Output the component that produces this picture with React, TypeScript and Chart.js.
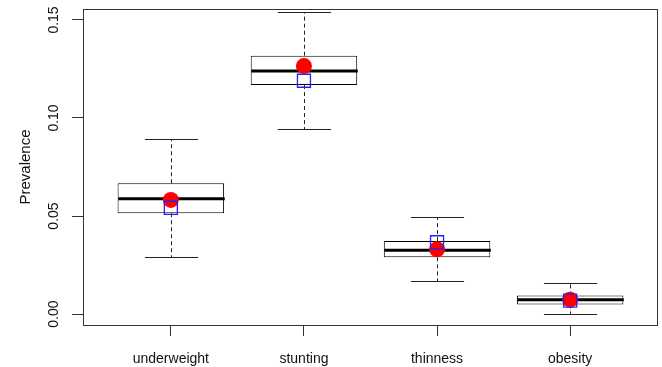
import { useEffect, useRef } from 'react';
import { Chart, registerables } from 'chart.js';

Chart.register(...registerables);

const categories = ['underweight', 'stunting', 'thinness', 'obesity'];
const whiskerLow = [0.0291, 0.0944, 0.017, 0.0];
const q1 = [0.0514, 0.1168, 0.0289, 0.0049];
const median = [0.0588, 0.124, 0.0325, 0.0073];
const q3 = [0.0667, 0.1318, 0.0372, 0.0095];
const whiskerHigh = [0.0893, 0.1542, 0.0497, 0.0158];
const redMeans = [0.0582, 0.1265, 0.033, 0.0073];
const blueValues = [0.0542, 0.119, 0.0366, 0.0068];
const yTicks = [0, 0.05, 0.1, 0.15];

const FONT = '"Liberation Sans", Arial, Helvetica, sans-serif';

const boxPlugin = {
  id: 'boxExtras',
  afterDatasetDraw(chart: any, args: any) {
    if (args.index !== 0) return;
    const { ctx, scales } = chart;
    const x = scales.x;
    const y = scales.y;
    const boxHalf = x.getPixelForValue(1.4) - x.getPixelForValue(1);
    const capHalf = x.getPixelForValue(1.2) - x.getPixelForValue(1);
    ctx.save();
    for (let i = 0; i < categories.length; i++) {
      const px = Math.round(x.getPixelForValue(i + 1)) + 0.5;
      const yq1 = y.getPixelForValue(q1[i]);
      const yq3 = y.getPixelForValue(q3[i]);
      const ylo = Math.round(y.getPixelForValue(whiskerLow[i])) + 0.5;
      const yhi = Math.round(y.getPixelForValue(whiskerHigh[i])) + 0.5;
      const ymed = y.getPixelForValue(median[i]);
      ctx.strokeStyle = '#222';
      ctx.lineWidth = 1;
      ctx.setLineDash([4, 3]);
      ctx.beginPath();
      ctx.moveTo(px, yq3);
      ctx.lineTo(px, yhi);
      ctx.moveTo(px, yq1);
      ctx.lineTo(px, ylo);
      ctx.stroke();
      ctx.setLineDash([]);
      ctx.beginPath();
      ctx.moveTo(px - capHalf, yhi);
      ctx.lineTo(px + capHalf, yhi);
      ctx.moveTo(px - capHalf, ylo);
      ctx.lineTo(px + capHalf, ylo);
      ctx.stroke();
      ctx.strokeStyle = '#000';
      ctx.lineWidth = 3;
      ctx.beginPath();
      ctx.moveTo(px - boxHalf, ymed);
      ctx.lineTo(px + boxHalf, ymed);
      ctx.stroke();
    }
    ctx.restore();
  },
  afterDraw(chart: any) {
    const { ctx, chartArea, scales } = chart;
    ctx.save();
    ctx.strokeStyle = '#333';
    ctx.lineWidth = 1;
    const l = Math.round(chartArea.left) + 0.5;
    const t = Math.round(chartArea.top) + 0.5;
    const r = Math.round(chartArea.right) - 0.5;
    const b = Math.round(chartArea.bottom) + 0.5;
    ctx.strokeRect(l, t, r - l, b - t);
    const y = scales.y;
    ctx.fillStyle = '#111';
    ctx.font = `14px ${FONT}`;
    ctx.textAlign = 'center';
    ctx.textBaseline = 'middle';
    for (const v of yTicks) {
      const py = y.getPixelForValue(v);
      ctx.save();
      ctx.translate(54, py);
      ctx.rotate(-Math.PI / 2);
      ctx.fillText(v.toFixed(2), 0, 0);
      ctx.restore();
    }
    ctx.restore();
  },
};

export default function App() {
  const ref = useRef<HTMLCanvasElement | null>(null);
  useEffect(() => {
    document.body.style.margin = '0';
    const canvas = ref.current;
    if (!canvas) return;
    const chart = new Chart(canvas, {
      type: 'bar',
      data: {
        datasets: [
          {
            type: 'bar',
            data: categories.map((_, i) => ({ x: i + 1, y: [q1[i], q3[i]] })) as any,
            backgroundColor: '#ffffff',
            borderColor: '#000000',
            borderWidth: 1,
            borderSkipped: false,
            barPercentage: 0.8,
            categoryPercentage: 1,
            order: 3,
          } as any,
          {
            type: 'scatter',
            data: categories.map((_, i) => ({ x: i + 1, y: redMeans[i] })),
            pointStyle: 'circle',
            pointRadius: 8,
            backgroundColor: '#ff0000',
            borderColor: '#ff0000',
            borderWidth: 0,
            order: 2,
          } as any,
          {
            type: 'scatter',
            data: categories.map((_, i) => ({ x: i + 1, y: blueValues[i] })),
            pointStyle: 'rect',
            pointRadius: 9.2,
            backgroundColor: 'rgba(0,0,0,0)',
            borderColor: '#2222ff',
            borderWidth: 1.3,
            order: 1,
          } as any,
        ],
      },
      options: {
        responsive: false,
        animation: false,
        layout: { autoPadding: false, padding: { left: 0, right: 4, top: 9, bottom: 0 } },
        plugins: { legend: { display: false }, tooltip: { enabled: false } },
        scales: {
          x: {
            type: 'linear',
            min: 0.34,
            max: 4.66,
            offset: false,
            afterBuildTicks: (s: any) => {
              s.ticks = categories.map((_, i) => ({ value: i + 1 }));
            },
            afterFit: (s: any) => {
              s.height = 42;
              s.paddingLeft = 0;
              s.paddingRight = 0;
            },
            ticks: {
              padding: 15,
              color: '#111',
              font: { family: FONT, size: 14 },
              callback: (v: any) => categories[Math.round(Number(v)) - 1] ?? '',
              maxRotation: 0,
              minRotation: 0,
              autoSkip: false,
            },
            grid: { drawOnChartArea: false, drawTicks: true, tickLength: 11, color: '#333', offset: false },
            border: { display: false },
          },
          y: {
            type: 'linear',
            min: -0.0056,
            max: 0.1556,
            afterBuildTicks: (s: any) => {
              s.ticks = yTicks.map((v) => ({ value: v }));
            },
            afterFit: (s: any) => {
              s.width = 83;
            },
            ticks: { display: false },
            grid: { drawOnChartArea: false, drawTicks: true, tickLength: 11, color: '#333' },
            border: { display: false },
            title: {
              display: true,
              text: 'Prevalence',
              color: '#111',
              font: { family: FONT, size: 15 },
              padding: { top: 17, bottom: 0 },
            },
          },
        },
      },
      plugins: [boxPlugin],
    });
    return () => chart.destroy();
  }, []);
  return (
    <div style={{ width: 662, height: 367 }}>
      <canvas ref={ref} width={662} height={367} />
    </div>
  );
}
